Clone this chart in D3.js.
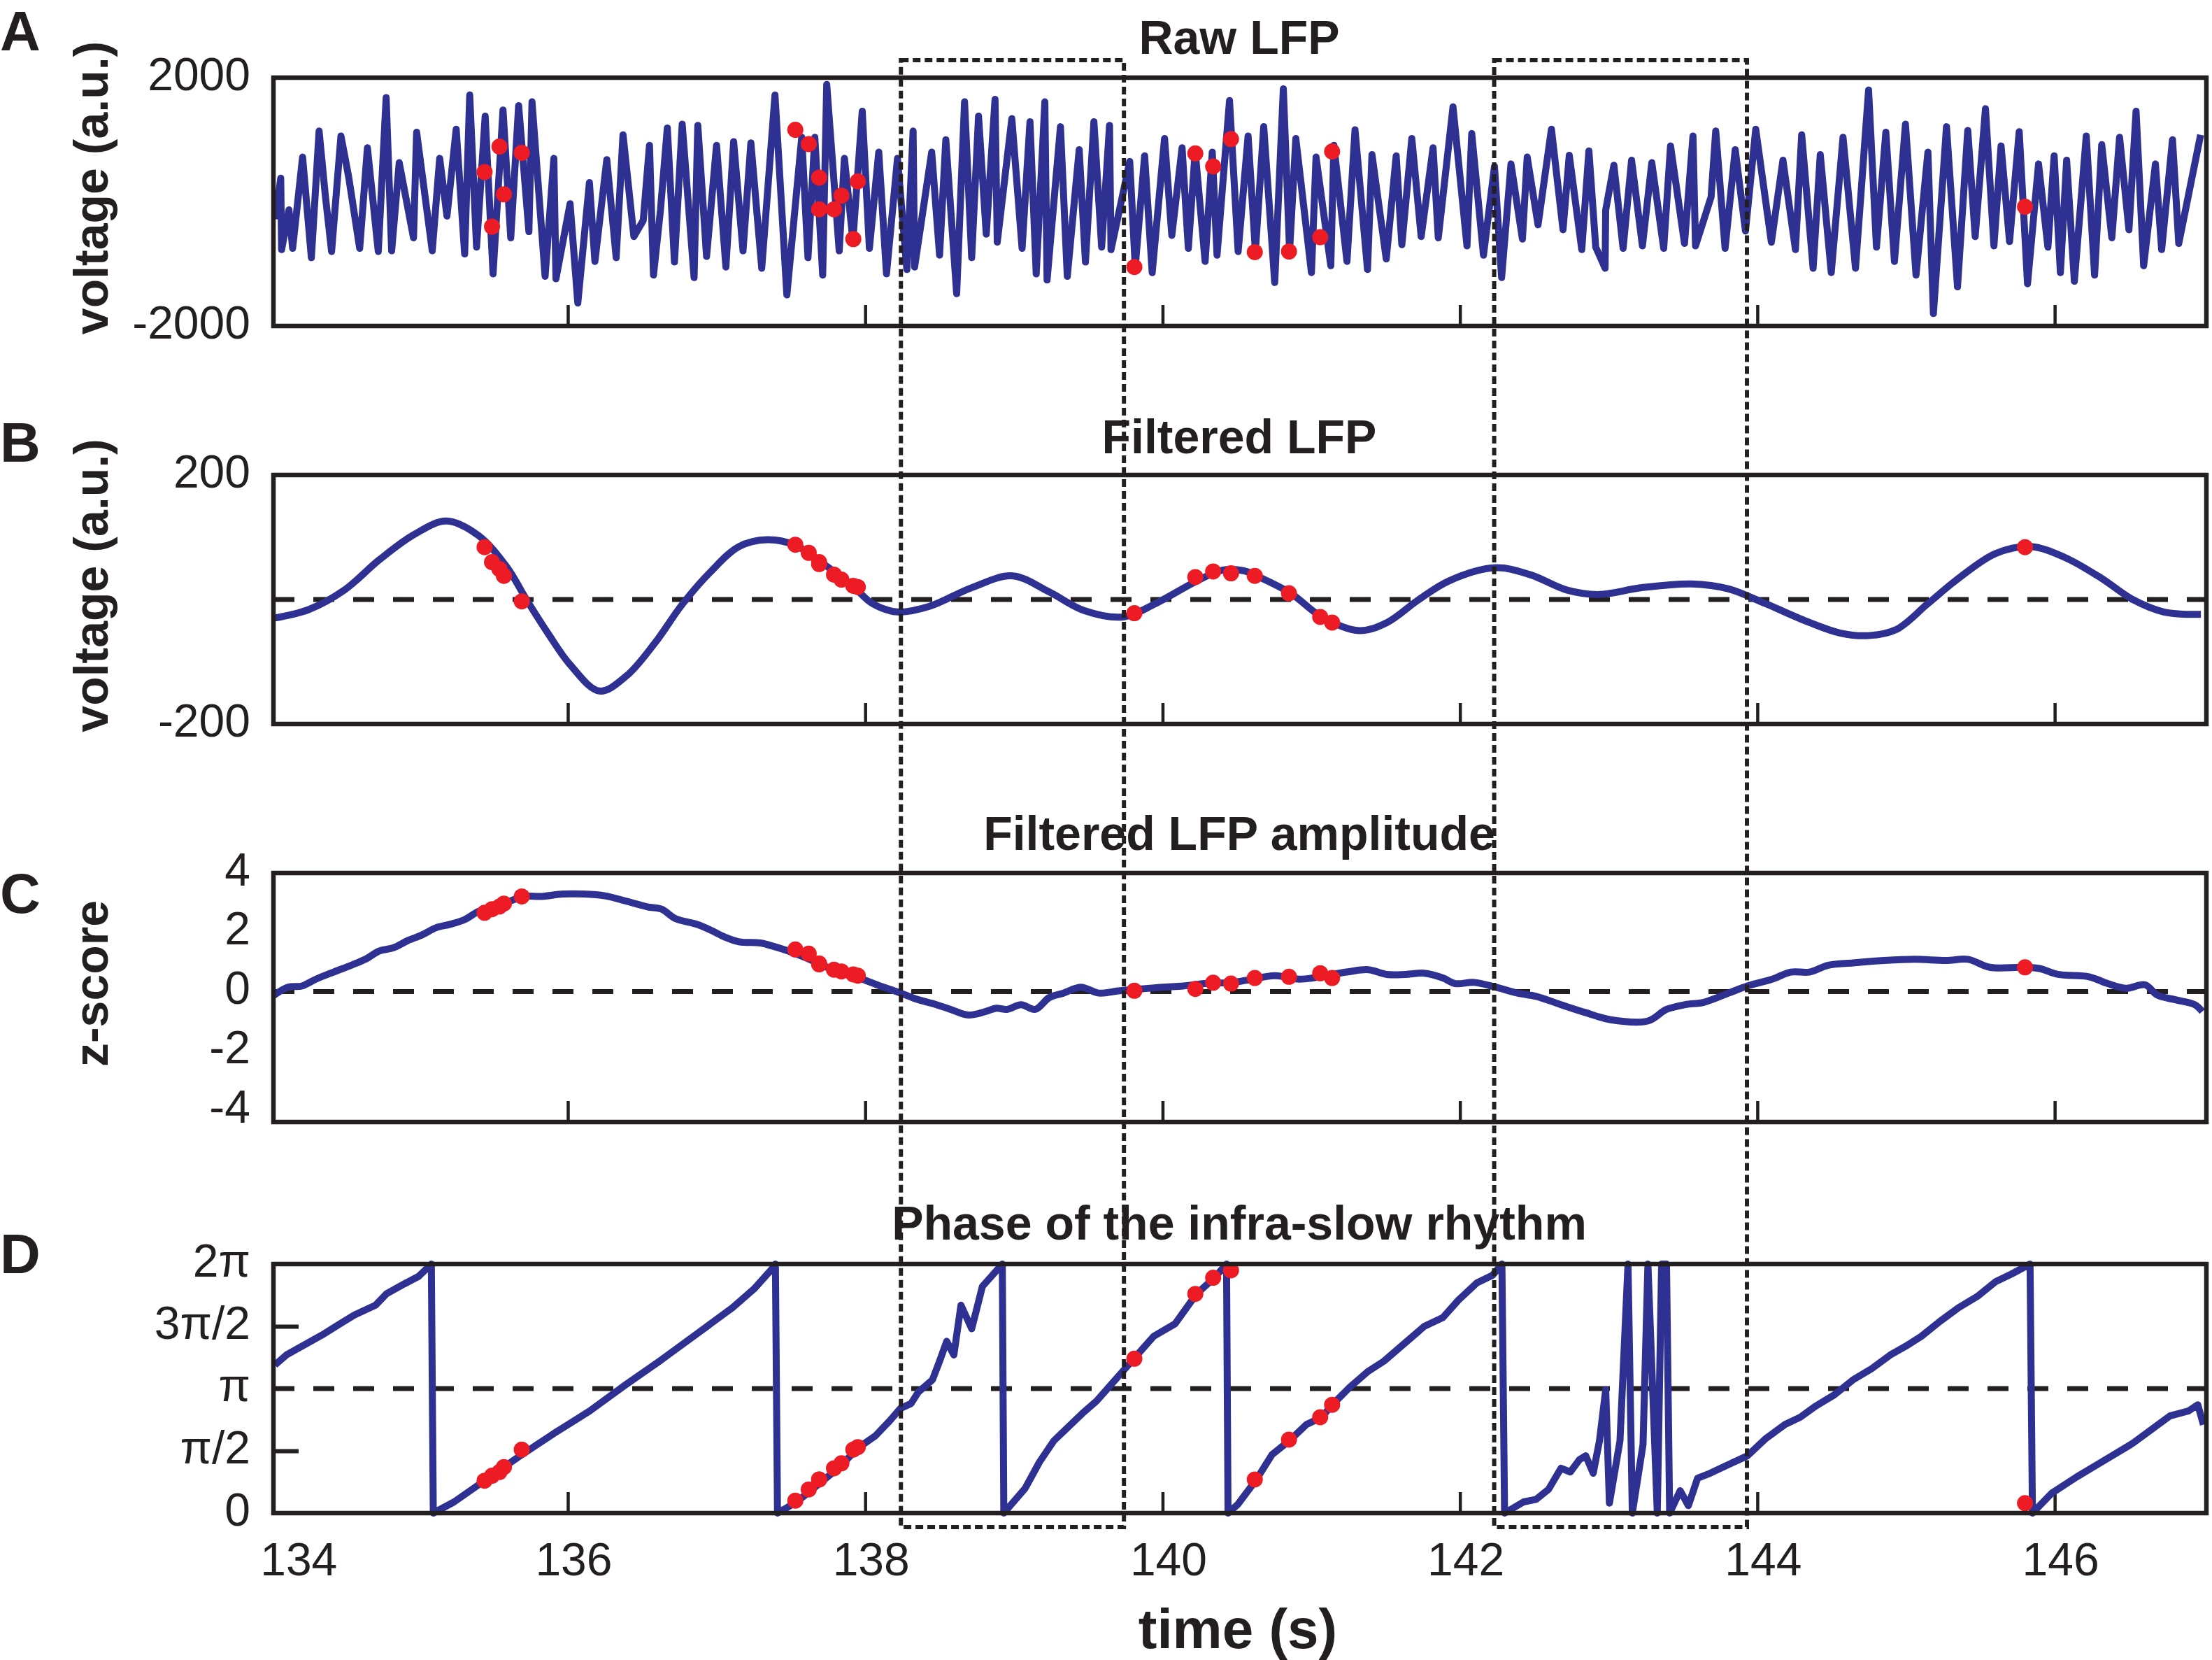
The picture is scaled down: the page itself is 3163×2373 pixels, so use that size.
<!DOCTYPE html>
<html>
<head>
<meta charset="utf-8">
<script src="https://cdn.jsdelivr.net/npm/d3@7"></script>
<style>
body { margin: 0; background: #fff; }
text { font-family: "Liberation Sans", Arial, Helvetica, sans-serif; fill: #231f20; }
</style>
</head>
<body>
<script>
var width = 3163,
    height = 2373;

// ---- data ----
var timeTicks = [134, 136, 138, 140, 142, 144, 146];

// A: raw LFP (vertices of the trace)
var rawTime = [134.033, 134.069, 134.075, 134.124, 134.149, 134.216, 134.275, 134.327, 134.369, 134.411,
    134.474, 134.526, 134.600, 134.652, 134.725, 134.778, 134.815, 134.866, 134.962, 134.983,
    135.088, 135.138, 135.187, 135.249, 135.306, 135.340, 135.386, 135.444, 135.497, 135.564,
    135.616, 135.669, 135.738, 135.759, 135.847, 135.906, 135.920, 136.015, 136.067, 136.145,
    136.182, 136.262, 136.325, 136.371, 136.444, 136.507, 136.549, 136.576, 136.623, 136.669,
    136.717, 136.769, 136.849, 136.874, 136.933, 137.000, 137.063, 137.115, 137.178, 137.231,
    137.304, 137.393, 137.473, 137.573, 137.615, 137.661, 137.714, 137.741, 137.825, 137.860,
    137.917, 137.980, 138.028, 138.091, 138.143, 138.217, 138.280, 138.322, 138.332, 138.447,
    138.500, 138.542, 138.615, 138.668, 138.716, 138.762, 138.814, 138.873, 138.888, 138.986,
    139.055, 139.108, 139.150, 139.208, 139.223, 139.313, 139.359, 139.439, 139.481, 139.538,
    139.590, 139.643, 139.653, 139.779, 139.816, 139.879, 139.930, 140.013, 140.062, 140.131,
    140.173, 140.219, 140.286, 140.334, 140.366, 140.450, 140.508, 140.575, 140.624, 140.680,
    140.754, 140.812, 140.854, 140.896, 141.001, 141.032, 141.131, 141.152, 141.240, 141.294,
    141.378, 141.408, 141.504, 141.571, 141.609, 141.676, 141.739, 141.819, 141.854, 141.953,
    142.047, 142.079, 142.158, 142.232, 142.280, 142.343, 142.420, 142.452, 142.525, 142.615,
    142.693, 142.735, 142.819, 142.867, 142.913, 142.976, 142.980, 143.035, 143.097, 143.154,
    143.227, 143.290, 143.370, 143.416, 143.510, 143.567, 143.584, 143.689, 143.720, 143.783,
    143.851, 143.920, 143.989, 144.094, 144.172, 144.256, 144.298, 144.375, 144.423, 144.497,
    144.576, 144.660, 144.748, 144.801, 144.864, 144.922, 144.996, 145.067, 145.147, 145.184,
    145.272, 145.346, 145.415, 145.465, 145.534, 145.591, 145.639, 145.696, 145.761, 145.817,
    145.891, 145.954, 145.996, 146.038, 146.080, 146.132, 146.212, 146.268, 146.316, 146.384,
    146.436, 146.499, 146.547, 146.598, 146.677, 146.719, 146.792, 146.834, 146.981];
var rawVoltage = [-280, 380, -770, -130, -750, 720, -900, 1140, 100, -800,
    1060, 400, -750, 870, -800, 1680, -790, 630, -580, 1120,
    -790, 700, -230, 1170, -840, 1720, -730, 1380, -1160, 1480,
    -580, 1550, -480, 1610, -1200, 700, -1240, -30, -1630, 310,
    -960, 680, -900, 1080, -560, -300, 910, -1180, -130, 1190,
    -970, 1250, -1220, 1230, -880, 910, -1050, 970, -790, 950,
    -1070, 1720, -1500, 1040, -900, 1040, -1180, 1890, -790, 700,
    -620, 1460, -750, 800, -1160, 700, -1090, 1140, -1050, 800,
    -860, 1000, -1480, 1610, -900, 1380, -520, 1650, -650, 1340,
    -750, 1290, -1160, 1610, -1260, 1210, -1200, 840, -970, 1290,
    -730, 1230, -770, 650, -1050, 740, -1140, 1020, -540, 870,
    -750, 820, -960, 800, -860, 1630, -800, 1060, -800, 1210,
    -1300, 1820, -790, 1020, -1140, 720, -1030, 910, -960, 1160,
    -1090, 760, -920, 740, -690, 1020, -560, 870, -580, 1530,
    -710, 1100, -860, 570, -1220, 610, -600, 720, -370, 1170,
    -450, 750, -770, 820, -730, -1070, -130, 590, -750, 670,
    -710, 630, -750, 900, -670, 1060, -710, 80, 1140, -750,
    840, -470, 1170, -650, 670, -770, 1080, -1070, 760, -1140,
    1040, -1070, 1800, -730, 1120, -960, 1250, -1180, 800, -1800,
    1210, -1370, 1150, -560, 1500, -710, 900, -640, 1130, -1320,
    610, -730, 740, -1140, 670, -1280, 1060, -1180, 920, -580,
    1040, -450, 1460, -1030, 610, -770, 1000, -670, 1080];

// B: filtered LFP
var filtTime = [134.022, 134.259, 134.496, 134.733, 134.970, 135.184, 135.397, 135.587, 135.729, 135.871,
    136.013, 136.213, 136.393, 136.582, 136.772, 136.962, 137.151, 137.341, 137.531, 137.720,
    137.910, 138.052, 138.218, 138.432, 138.716, 138.991, 139.238, 139.475, 139.736, 139.949,
    140.233, 140.400, 140.550, 140.631, 140.861, 141.070, 141.321, 141.509, 141.718, 141.927,
    142.240, 142.470, 142.721, 142.930, 143.222, 143.557, 143.807, 144.058, 144.351, 144.559,
    144.748, 144.936, 145.145, 145.353, 145.604, 145.834, 146.064, 146.315, 146.524, 146.733, 146.983];
var filtVoltage = [-30, -16, 15, 64, 105, 126, 103, 53, -3, -56,
    -104, -147, -123, -71, -7, 45, 85, 96, 87, 57,
    23, -7, -20, -11, 19, 38, 12, -18, -28, -7,
    30, 47, 46, 38, 10, -28, -50, -37, -1, 30,
    51, 40, 15, 8, 19, 25, 17, -7, -37, -54,
    -58, -48, -7, 34, 74, 85, 68, 34, 0, -20, -24];

// C: amplitude of filtered LFP (z-score)
var ampTime = [134.022, 134.117, 134.212, 134.306, 134.425, 134.543, 134.638, 134.733, 134.828, 134.923,
    135.018, 135.112, 135.207, 135.302, 135.397, 135.492, 135.587, 135.705, 135.824, 135.966,
    136.108, 136.250, 136.393, 136.535, 136.630, 136.725, 136.867, 136.962, 137.056, 137.151,
    137.294, 137.388, 137.483, 137.625, 137.744, 137.862, 137.981, 138.100, 138.218, 138.337,
    138.479, 138.574, 138.693, 138.811, 138.882, 138.953, 139.048, 139.143, 139.238, 139.333,
    139.451, 139.570, 139.712, 139.854, 139.997, 140.139, 140.281, 140.470, 140.560, 140.757,
    140.924, 141.237, 141.384, 141.509, 141.634, 141.760, 141.885, 141.969, 142.094, 142.240,
    142.386, 142.512, 142.679, 142.846, 143.013, 143.264, 143.389, 143.515, 143.640, 143.807,
    143.933, 144.100, 144.225, 144.350, 144.476, 144.643, 144.852, 145.061, 145.270, 145.416,
    145.562, 145.792, 145.897, 146.022, 146.231, 146.356, 146.482, 146.607, 146.691, 146.816,
    146.941, 146.992];
var ampZ = [-0.13, 0.15, 0.19, 0.42, 0.66, 0.89, 1.09, 1.37, 1.48, 1.72,
    1.91, 2.15, 2.27, 2.42, 2.70, 2.86, 3.01, 3.21, 3.21, 3.29,
    3.29, 3.23, 3.05, 2.86, 2.78, 2.46, 2.27, 2.07, 1.84, 1.68,
    1.64, 1.52, 1.37, 1.09, 0.82, 0.62, 0.42, 0.19, -0.01, -0.24,
    -0.44, -0.60, -0.79, -0.67, -0.56, -0.60, -0.44, -0.60, -0.20, -0.05,
    0.15, -0.05, 0.03, 0.09, 0.15, 0.19, 0.27, 0.31, 0.38, 0.54,
    0.42, 0.66, 0.74, 0.58, 0.58, 0.62, 0.46, 0.27, 0.31, 0.15,
    -0.05, -0.16, -0.44, -0.71, -0.95, -0.99, -0.60, -0.44, -0.36, -0.05,
    0.19, 0.42, 0.66, 0.66, 0.89, 0.97, 1.05, 1.09, 1.05, 1.09,
    0.82, 0.82, 0.78, 0.58, 0.50, 0.27, 0.11, 0.23, -0.12, -0.28,
    -0.44, -0.67];

// D: phase of the infra-slow rhythm, in units of pi
var phaseTime = [134.030, 134.107, 134.227, 134.347, 134.467, 134.563, 134.707, 134.779, 134.899, 134.995,
    135.082, 135.095, 135.235, 135.427, 135.667, 135.907, 136.147, 136.388, 136.628, 136.868,
    137.108, 137.252, 137.372, 137.396, 137.410, 137.540, 137.684, 137.828, 137.948, 138.068,
    138.164, 138.236, 138.308, 138.356, 138.452, 138.500, 138.548, 138.596, 138.644, 138.716,
    138.788, 138.922, 138.932, 139.076, 139.172, 139.268, 139.364, 139.460, 139.556, 139.652,
    139.748, 139.844, 139.940, 140.084, 140.228, 140.348, 140.430, 140.440, 140.506, 140.631,
    140.736, 140.861, 140.966, 141.070, 141.141, 141.258, 141.384, 141.488, 141.634, 141.760,
    141.885, 141.989, 142.115, 142.219, 142.282, 142.300, 142.428, 142.512, 142.595, 142.679,
    142.742, 142.804, 142.846, 142.896, 142.938, 142.980, 143.005, 143.076, 143.130, 143.159,
    143.231, 143.264, 143.327, 143.356, 143.389, 143.410, 143.481, 143.536, 143.598, 143.682,
    143.807, 143.933, 144.058, 144.184, 144.288, 144.393, 144.518, 144.643, 144.769, 144.894,
    144.998, 145.103, 145.228, 145.354, 145.479, 145.604, 145.709, 145.834, 145.850, 145.980,
    146.147, 146.315, 146.524, 146.649, 146.774, 146.899, 146.962, 147.000];
var phasePi = [1.19, 1.27, 1.35, 1.43, 1.52, 1.59, 1.67, 1.76, 1.84, 1.90,
    2.00, 0.00, 0.09, 0.25, 0.45, 0.64, 0.82, 1.03, 1.23, 1.44,
    1.65, 1.80, 1.96, 2.00, 0.00, 0.09, 0.23, 0.37, 0.52, 0.62,
    0.74, 0.84, 0.88, 0.97, 1.07, 1.22, 1.38, 1.27, 1.67, 1.48,
    1.82, 2.00, 0.00, 0.20, 0.41, 0.58, 0.69, 0.80, 0.90, 1.03,
    1.16, 1.29, 1.42, 1.52, 1.76, 1.89, 2.00, 0.00, 0.07, 0.27,
    0.47, 0.59, 0.71, 0.77, 0.87, 1.01, 1.14, 1.22, 1.37, 1.50,
    1.57, 1.71, 1.85, 1.91, 2.00, 0.00, 0.09, 0.11, 0.19, 0.36,
    0.33, 0.43, 0.46, 0.32, 0.58, 0.99, 0.08, 0.58, 2.00, 0.00,
    0.55, 2.00, 0.00, 2.00, 2.00, 0.00, 0.18, 0.06, 0.28, 0.32,
    0.39, 0.46, 0.60, 0.71, 0.77, 0.86, 0.95, 1.07, 1.16, 1.27,
    1.34, 1.42, 1.54, 1.65, 1.74, 1.86, 1.92, 2.00, 0.00, 0.16,
    0.29, 0.41, 0.56, 0.67, 0.78, 0.82, 0.87, 0.71];

// red markers: event times and the value of each panel at those events
var eventTime = [135.44, 135.49, 135.54, 135.57, 135.69,
    137.53, 137.62, 137.69, 137.69, 137.79, 137.84, 137.92, 137.95,
    139.81,
    140.22, 140.34, 140.46, 140.62, 140.85, 141.06, 141.14,
    145.80];
var eventRaw = [480, -400, 890, 120, 790,
    1160, 930, 390, -120, -120, 100, -600, 330,
    -1050,
    780, 570, 1010, -810, -800, -570, 810,
    -80];
var eventFilt = [84, 60, 49, 38, -3,
    88, 75, 60, 57, 40, 32, 22, 20,
    -22,
    36, 45, 42, 38, 10, -28, -37,
    84];
var eventAmp = [2.66, 2.78, 2.87, 2.97, 3.21,
    1.42, 1.28, 0.95, 0.92, 0.74, 0.68, 0.58, 0.54,
    0.03,
    0.09, 0.30, 0.27, 0.46, 0.50, 0.62, 0.46,
    0.82];
var eventPhase = [0.26, 0.30, 0.33, 0.37, 0.51,
    0.10, 0.19, 0.27, 0.27, 0.36, 0.40, 0.51, 0.53,
    1.24,
    1.76, 1.89, 1.95, 0.27, 0.59, 0.77, 0.87,
    0.08];

// highlighted windows (dotted boxes)
var windowStart = [138.24, 142.23];
var windowEnd = [139.74, 143.93];

// ---- drawing ----
var blue = "#2e3192",
    red = "#ed1c24",
    ink = "#231f20";

var svg = d3.select("body").append("svg")
    .attr("width", width)
    .attr("height", height);

var x = d3.scaleLinear().domain([134.02, 147.02]).range([391, 3155]);

var piLabels = { 0: "0", 0.5: "\u03c0/2", 1: "\u03c0", 1.5: "3\u03c0/2", 2: "2\u03c0" };

var panels = [
    { letter: "A", letterY: 72, title: "Raw LFP", titleY: 77, top: 111, bottom: 466,
      domain: [-2000, 2000], yTicks: [-2000, 2000], zero: null, ylabel: "voltage (a.u.)",
      t: rawTime, v: rawVoltage, ev: eventRaw, curve: d3.curveLinear },
    { letter: "B", letterY: 660, title: "Filtered LFP", titleY: 648, top: 679, bottom: 1035,
      domain: [-200, 200], yTicks: [-200, 200], zero: 0, ylabel: "voltage (a.u.)",
      t: filtTime, v: filtVoltage, ev: eventFilt, curve: d3.curveCatmullRom },
    { letter: "C", letterY: 1305, title: "Filtered LFP amplitude", titleY: 1215, top: 1248, bottom: 1604,
      domain: [-4.4, 4], yTicks: [-4, -2, 0, 2, 4], zero: 0, ylabel: "z-score",
      t: ampTime, v: ampZ, ev: eventAmp, curve: d3.curveCatmullRom },
    { letter: "D", letterY: 1820, title: "Phase of the infra-slow rhythm", titleY: 1772, top: 1807, bottom: 2163,
      domain: [0, 2], yTicks: [0, 0.5, 1, 1.5, 2], zero: 1, ylabel: null, piAxis: true,
      t: phaseTime, v: phasePi, ev: eventPhase, curve: d3.curveLinear }
];

panels.forEach(function (p) {
    var y = d3.scaleLinear().domain(p.domain).range([p.bottom, p.top]);
    var g = svg.append("g");

    // inward x ticks
    g.append("g")
        .attr("transform", "translate(0," + p.bottom + ")")
        .call(d3.axisBottom(x).tickValues(timeTicks.slice(1)).tickSize(-30).tickFormat(""))
        .call(function (a) {
            a.select(".domain").remove();
            a.selectAll("line").attr("stroke", ink).attr("stroke-width", 4.5);
        });

    // inward y ticks only on the phase panel
    if (p.piAxis) {
        g.append("g")
            .attr("transform", "translate(" + x.range()[0] + ",0)")
            .call(d3.axisLeft(y).tickValues([0.5, 1.5]).tickSize(-36).tickFormat(""))
            .call(function (a) {
                a.select(".domain").remove();
                a.selectAll("line").attr("stroke", ink).attr("stroke-width", 6);
            });
    }

    // y tick labels
    g.append("g")
        .attr("transform", "translate(" + x.range()[0] + ",0)")
        .call(d3.axisLeft(y).tickValues(p.yTicks).tickSize(0).tickPadding(33)
            .tickFormat(function (d) { return p.piAxis ? piLabels[d] : d; }))
        .call(function (a) {
            a.select(".domain").remove();
            a.selectAll("text")
                .attr("font-size", 66)
                .attr("font-family", "'Liberation Sans', Arial, sans-serif")
                .attr("fill", ink)
                .attr("dy", "0.26em");
        });

    // dashed reference line
    if (p.zero !== null) {
        g.append("line")
            .attr("x1", x.range()[0]).attr("x2", x.range()[1])
            .attr("y1", y(p.zero)).attr("y2", y(p.zero))
            .attr("stroke", ink)
            .attr("stroke-width", 7)
            .attr("stroke-dasharray", "30,27");
    }

    // trace
    var line = d3.line()
        .curve(p.curve)
        .x(function (d) { return x(d[0]); })
        .y(function (d) { return y(d[1]); });
    g.append("path")
        .datum(d3.zip(p.t, p.v))
        .attr("d", line)
        .attr("fill", "none")
        .attr("stroke", blue)
        .attr("stroke-width", 10)
        .attr("stroke-linejoin", "round");

    // event markers
    g.selectAll(".dot")
        .data(d3.zip(eventTime, p.ev))
        .enter().append("circle")
        .attr("cx", function (d) { return x(d[0]); })
        .attr("cy", function (d) { return y(d[1]); })
        .attr("r", 11.5)
        .attr("fill", red);

    // frame
    g.append("rect")
        .attr("x", x.range()[0]).attr("y", p.top)
        .attr("width", x.range()[1] - x.range()[0])
        .attr("height", p.bottom - p.top)
        .attr("fill", "none")
        .attr("stroke", ink)
        .attr("stroke-width", 6.5);

    // title
    svg.append("text")
        .attr("x", 1772).attr("y", p.titleY)
        .attr("text-anchor", "middle")
        .attr("font-size", 68)
        .attr("font-weight", "bold")
        .text(p.title);

    // panel letter
    svg.append("text")
        .attr("x", 0).attr("y", p.letterY)
        .attr("font-size", 80)
        .attr("font-weight", "bold")
        .text(p.letter);

    // y label
    if (p.ylabel) {
        svg.append("text")
            .attr("transform", "translate(154," + ((p.top + p.bottom) / 2 - 20) + ") rotate(-90)")
            .attr("text-anchor", "middle")
            .attr("font-size", 68)
            .attr("font-weight", "bold")
            .text(p.ylabel);
    }
});

// time tick labels under the last panel
var last = panels[panels.length - 1];
svg.append("g")
    .attr("transform", "translate(0," + last.bottom + ")")
    .call(d3.axisBottom(x).tickValues(timeTicks).tickSize(0).tickPadding(42))
    .call(function (a) {
        a.select(".domain").remove();
        a.selectAll("text")
            .attr("font-size", 66)
            .attr("font-family", "'Liberation Sans', Arial, sans-serif")
            .attr("fill", ink)
            .attr("dx", function (d) { return d === 134 ? 40 : 8; });
    });

svg.append("text")
    .attr("x", 1770).attr("y", 2356)
    .attr("text-anchor", "middle")
    .attr("font-size", 80)
    .attr("font-weight", "bold")
    .text("time (s)");

// dotted boxes spanning all panels
svg.selectAll(".window")
    .data(d3.zip(windowStart, windowEnd))
    .enter().append("rect")
    .attr("x", function (d) { return x(d[0]); })
    .attr("y", 86)
    .attr("width", function (d) { return x(d[1]) - x(d[0]); })
    .attr("height", 2183 - 86)
    .attr("fill", "none")
    .attr("stroke", ink)
    .attr("stroke-width", 6)
    .attr("stroke-dasharray", "11,6");
</script>
</body>
</html>
